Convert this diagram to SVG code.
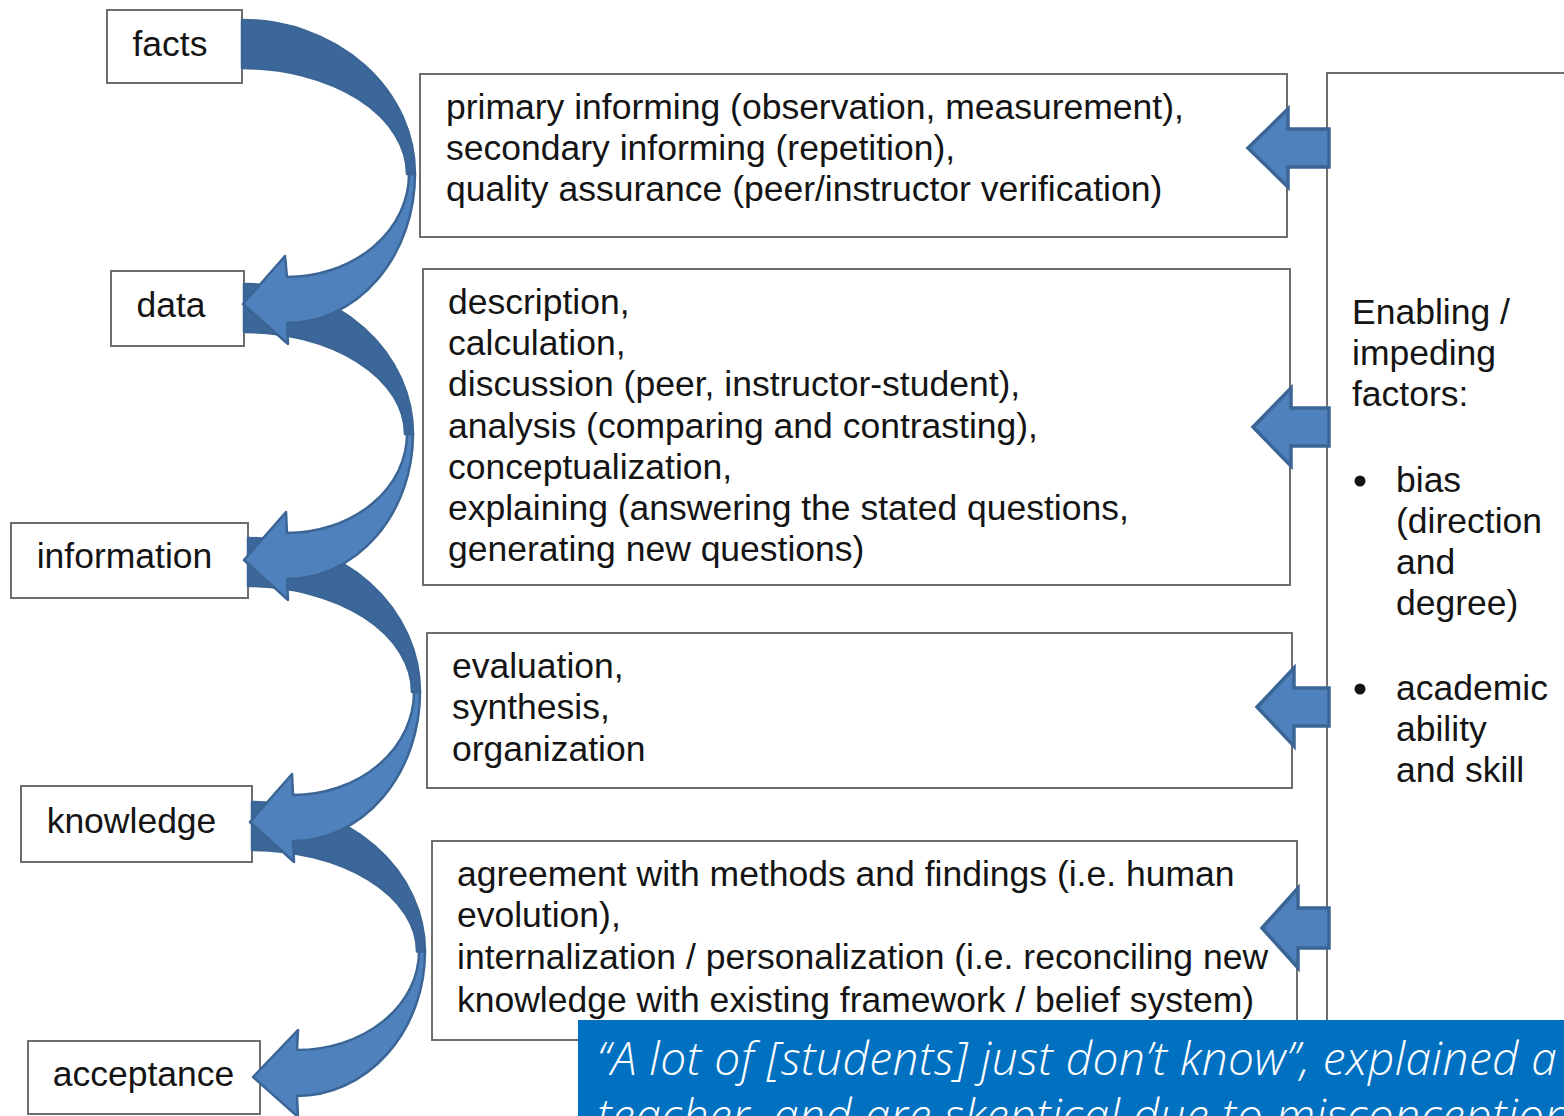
<svg xmlns="http://www.w3.org/2000/svg" width="1564" height="1116" viewBox="0 0 1564 1116">
  <style>
    .box { fill: #ffffff; stroke: #6e6e6e; stroke-width: 2; }
    .t { font-family: "Liberation Sans", Arial, sans-serif; font-size: 35.5px; fill: #141414; }
    .back { fill: #3c679b; stroke: #3a6595; stroke-width: 2.5; stroke-linejoin: round; }
    .front { fill: #4f81bd; stroke: #3a6595; stroke-width: 2.5; stroke-linejoin: round; }
    .block { fill: #4f81bd; stroke: #3a6595; stroke-width: 3.5; stroke-linejoin: miter; }
    .quote { font-family: "Open Sans", "Liberation Sans", sans-serif; font-style: italic; font-weight: 300; font-size: 46px; letter-spacing: 0.5px; fill: #ffffff; }
  </style>

  <!-- right-hand factors panel (runs off the canvas) -->
  <g id="factors">
    <rect class="box" x="1327" y="73" width="300" height="1100"/>
    <text class="t" x="1352" y="324">Enabling /</text>
    <text class="t" x="1352" y="365">impeding</text>
    <text class="t" x="1352" y="406">factors:</text>
    <circle cx="1360" cy="481" r="5.5" fill="#141414"/>
    <text class="t" x="1396" y="492">bias</text>
    <text class="t" x="1396" y="533">(direction</text>
    <text class="t" x="1396" y="574">and</text>
    <text class="t" x="1396" y="615">degree)</text>
    <circle cx="1360" cy="689" r="5.5" fill="#141414"/>
    <text class="t" x="1396" y="700">academic</text>
    <text class="t" x="1396" y="741">ability</text>
    <text class="t" x="1396" y="782">and skill</text>
  </g>

  <!-- stage nodes -->
  <g id="facts">
    <rect class="box" x="107" y="10" width="135" height="73"/>
    <text class="t" x="170" y="56" text-anchor="middle">facts</text>
  </g>
  <g id="data">
    <rect class="box" x="111" y="271" width="133" height="75"/>
    <text class="t" x="171" y="317" text-anchor="middle">data</text>
  </g>
  <g id="information">
    <rect class="box" x="11" y="523" width="237" height="75"/>
    <text class="t" x="124.5" y="568" text-anchor="middle">information</text>
  </g>
  <g id="knowledge">
    <rect class="box" x="21" y="786" width="231" height="76"/>
    <text class="t" x="131.5" y="833" text-anchor="middle">knowledge</text>
  </g>
  <g id="acceptance">
    <rect class="box" x="28" y="1041" width="232" height="73"/>
    <text class="t" x="143.5" y="1086" text-anchor="middle">acceptance</text>
  </g>

  <!-- process description nodes -->
  <g id="informing">
    <rect class="box" x="420" y="74" width="867" height="163"/>
    <text class="t" x="446" y="119">primary informing (observation, measurement),</text>
    <text class="t" x="446" y="160">secondary informing (repetition),</text>
    <text class="t" x="446" y="201">quality assurance (peer/instructor verification)</text>
  </g>
  <g id="processing">
    <rect class="box" x="423" y="269" width="867" height="316"/>
    <text class="t" x="448" y="314">description,</text>
    <text class="t" x="448" y="355">calculation,</text>
    <text class="t" x="448" y="396">discussion (peer, instructor-student),</text>
    <text class="t" x="448" y="438">analysis (comparing and contrasting),</text>
    <text class="t" x="448" y="479">conceptualization,</text>
    <text class="t" x="448" y="520">explaining (answering the stated questions,</text>
    <text class="t" x="448" y="561">generating new questions)</text>
  </g>
  <g id="structuring">
    <rect class="box" x="427" y="633" width="865" height="155"/>
    <text class="t" x="452" y="678">evaluation,</text>
    <text class="t" x="452" y="719">synthesis,</text>
    <text class="t" x="452" y="761">organization</text>
  </g>
  <g id="accepting">
    <rect class="box" x="432" y="841" width="865" height="199"/>
    <text class="t" x="457" y="886">agreement with methods and findings (i.e. human</text>
    <text class="t" x="457" y="927">evolution),</text>
    <text class="t" x="457" y="969">internalization / personalization (i.e. reconciling new</text>
    <text class="t" x="457" y="1012">knowledge with existing framework / belief system)</text>
  </g>

  <!-- connectors: curved stage arrows (drawn bottom-up so each head sits over the next tail) and block arrows from the factors panel -->
  <g id="connectors">
    <g id="knowledge-to-acceptance">
      <path class="back" d="M252,802 A173,149.5 0 0 1 425,951.5 L417,951.5 A165,101.5 0 0 0 252,850 Z"/>
      <path class="front" d="M425,951.5 A128,144.5 0 0 1 297,1096 L298,1117 L253,1077 L298,1030 L297,1050 A122,98.5 0 0 0 419,951.5 Z"/>
    </g>
    <g id="information-to-knowledge">
      <path class="back" d="M248,538 A172,154 0 0 1 420,692 L412,692 A164,106 0 0 0 248,586 Z"/>
      <path class="front" d="M420,692 A127,149 0 0 1 293,841 L294,862 L250,822 L292,774 L293,795 A121,103 0 0 0 414,692 Z"/>
    </g>
    <g id="data-to-information">
      <path class="back" d="M244,284 A169,150 0 0 1 413,434 L405,434 A161,102 0 0 0 244,332 Z"/>
      <path class="front" d="M413,434 A126,145 0 0 1 287,579 L288,600 L244,560 L286,512 L287,533 A120,99 0 0 0 407,434 Z"/>
    </g>
    <g id="facts-to-data">
      <path class="back" d="M242,20 A173,154 0 0 1 415,174 L407,174 A165,106 0 0 0 242,68 Z"/>
      <path class="front" d="M415,174 A128,149 0 0 1 287,323 L288,344 L243,304 L285,256 L287,277 A122,103 0 0 0 409,174 Z"/>
    </g>

    <path id="factors-to-informing" class="block" d="M1248,148 L1288,109 L1288,129 L1329,129 L1329,167 L1288,167 L1288,187 Z"/>
    <path id="factors-to-processing" class="block" d="M1253,427 L1291,388 L1291,408 L1329,408 L1329,446 L1291,446 L1291,466 Z"/>
    <path id="factors-to-structuring" class="block" d="M1257,707 L1294,668 L1294,688 L1329,688 L1329,726 L1294,726 L1294,746 Z"/>
    <path id="factors-to-accepting" class="block" d="M1262,928 L1298,888 L1298,908 L1329,908 L1329,948 L1298,948 L1298,968 Z"/>
  </g>

  <!-- quotation banner overlapping the lower right corner -->
  <g id="quote-banner">
    <rect x="578" y="1020" width="1000" height="110" fill="#0070c0"/>
    <text class="quote" x="597" y="1075">“A lot of [students] just don’t know”, explained a</text>
    <text class="quote" x="597" y="1132">teacher, and are skeptical due to misconceptions,</text>
  </g>
</svg>
